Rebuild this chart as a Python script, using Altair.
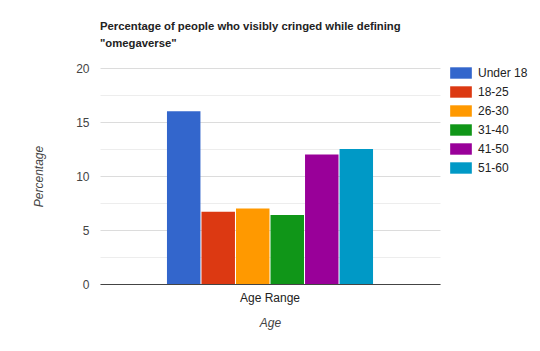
import altair as alt
import pandas as pd

groups = ["Under 18", "18-25", "26-30", "31-40", "41-50", "51-60"]
values = [16.0, 6.7, 7.0, 6.4, 12.0, 12.5]
colors = ["#3366cc", "#dc3912", "#ff9900", "#109618", "#990099", "#0099c6"]
category = "Age Range"
y_ticks = [0, 2.5, 5, 7.5, 10, 12.5, 15, 17.5, 20]

df = pd.DataFrame({"range": [category] * len(groups), "group": groups, "value": values})

font = "Liberation Sans"

chart = alt.Chart(df).mark_bar().encode(
    x=alt.X("range:N", title="Age",
            scale=alt.Scale(paddingOuter=0.325, paddingInner=0),
            axis=alt.Axis(labelAngle=0, ticks=False, domain=True, domainColor="#444",
                          grid=False,
                          domainWidth=1, labelFont=font, labelFontSize=12, labelColor="#222",
                          labelPadding=8, titleFont=font, titleFontSize=12,
                          titleFontStyle="italic", titleFontWeight="normal",
                          titleColor="#444", titlePadding=14)),
    xOffset=alt.XOffset("group:N", sort=groups, scale=alt.Scale(paddingInner=0.03, paddingOuter=0)),
    y=alt.Y("value:Q", title="Percentage",
            scale=alt.Scale(domain=[0, 20], nice=False),
            axis=alt.Axis(values=y_ticks, labelExpr="datum.value % 5 == 0 ? datum.label : ''",
                          ticks=False, domain=False,
                          gridColor={"condition": {"test": "datum.value % 5 === 0", "value": "#dcdcdc"}, "value": "#ededed"},
                          gridWidth=1,
                          labelFont=font, labelFontSize=12, labelColor="#444", labelPadding=11,
                          titleFont=font, titleFontSize=12, titleFontStyle="italic",
                          titleFontWeight="normal", titleColor="#444", titlePadding=30)),
    color=alt.Color("group:N", sort=groups,
                    scale=alt.Scale(domain=groups, range=colors),
                    legend=alt.Legend(title=None, orient="none", legendX=355, legendY=-1,
                                      symbolType="M-1.9,-1H1.9V1H-1.9Z", symbolSize=130,
                                      symbolStrokeWidth=0, symbolOpacity=1,
                                      labelFont=font, labelFontSize=12, labelColor="#222",
                                      labelOffset=11, rowPadding=7)),
).properties(
    width=340,
    height=216,
    autosize=alt.AutoSizeParams(type="none"),
    padding={"left": 100, "top": 68, "right": 100, "bottom": 67},
    title=alt.TitleParams(
        text=["Percentage of people who visibly cringed while defining", "\"omegaverse\""],
        anchor="start", frame="group", font=font, fontSize=11.3, fontWeight="bold",
        color="#222", offset=13, lineHeight=17),
).configure(background="white", view=alt.ViewConfig(stroke="transparent"))

chart.save("out.html", embed_options={"renderer": "svg", "actions": False})
